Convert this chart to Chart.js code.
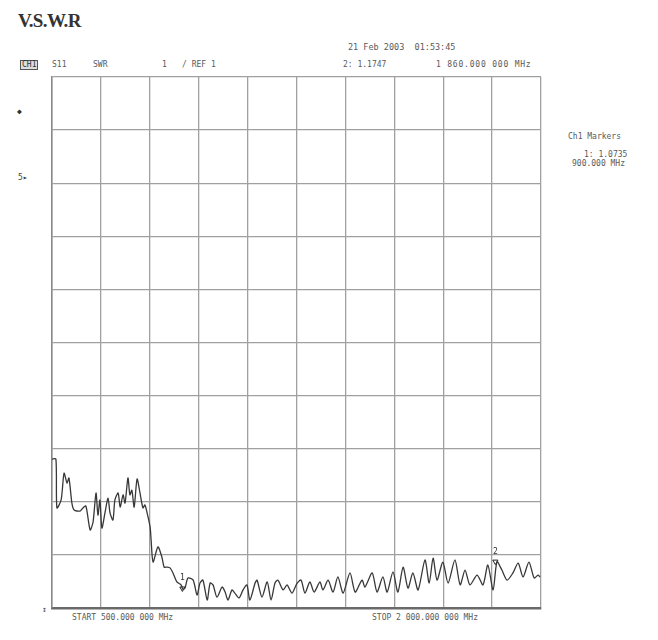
<!DOCTYPE html>
<html><head><meta charset="utf-8">
<script src="https://cdn.jsdelivr.net/npm/chart.js@4"></script>
<style>
body{margin:0;background:#fff;width:658px;height:640px;position:relative;overflow:hidden;font-family:"DejaVu Sans Mono",monospace;color:#5a5a5a}
.t{position:absolute;font-size:8px;white-space:pre;line-height:1}
#title{position:absolute;left:18px;top:10px;font-family:"Liberation Serif",serif;font-weight:bold;font-size:19px;color:#333;letter-spacing:-0.6px}
#wrap{position:absolute;left:46px;top:71px;width:501px;height:543px}
.box{border:1px solid #555;padding:0 1px;background:#ddd;color:#333}
</style></head><body>
<div id="title">V.S.W.R</div>
<div class="t" style="left:348px;top:43px;font-size:8.5px">21 Feb 2003  01:53:45</div>
<div class="t box" style="left:20px;top:60px;">CH1</div>
<div class="t" style="left:52px;top:61px">S11</div>
<div class="t" style="left:93px;top:61px">SWR</div>
<div class="t" style="left:162px;top:61px">1</div>
<div class="t" style="left:182px;top:61px">/ REF 1</div>
<div class="t" style="left:343px;top:61px">2: 1.1747</div>
<div class="t" style="left:436px;top:61px;letter-spacing:0.8px">1 860.000 000 MHz</div>
<div class="t" style="left:568px;top:133px">Ch1 Markers</div>
<div class="t" style="left:584px;top:151px">1: 1.0735</div>
<div class="t" style="left:572px;top:160px">900.000 MHz</div>
<div class="t" style="left:17px;top:108px;color:#333">&#9670;</div>
<div class="t" style="left:18px;top:174px;color:#444">5&#9656;</div>
<div class="t" style="left:42px;top:606px;color:#444">&#8597;</div>
<div class="t" style="left:72px;top:614px">START 500.000 000 MHz</div>
<div class="t" style="left:372px;top:614px">STOP 2 000.000 000 MHz</div>
<div id="wrap"><canvas id="c" width="501" height="543"></canvas></div>
<script>
// frequency (MHz)
const freqMHz = [500,512,515,528,537,546,552,561,568,586,595,604,617,626,635,641,647,653,663,672,678,687,693,703,709,718,724,733,739,745,752,761,770,779,785,791,801,804,810,825,837,844,853,862,871,883,896,902,908,917,933,945,954,963,976,985,994,1006,1022,1031,1040,1052,1061,1074,1086,1098,1107,1123,1129,1144,1160,1172,1184,1193,1209,1221,1236,1252,1264,1276,1291,1304,1322,1331,1347,1362,1377,1393,1414,1430,1451,1460,1482,1497,1515,1528,1546,1561,1577,1592,1607,1623,1644,1657,1669,1681,1699,1715,1736,1752,1767,1782,1804,1822,1837,1853,1865,1880,1896,1914,1930,1945,1963,1979,1991,1997];
// VSWR trace
const vswr = [1.561,1.561,1.377,1.407,1.508,1.471,1.490,1.395,1.369,1.365,1.377,1.384,1.294,1.324,1.433,1.350,1.407,1.301,1.362,1.414,1.358,1.331,1.407,1.433,1.380,1.426,1.395,1.490,1.426,1.444,1.380,1.486,1.433,1.377,1.388,1.362,1.305,1.256,1.173,1.230,1.192,1.154,1.154,1.151,1.132,1.098,1.087,1.070,1.075,1.113,1.105,1.049,1.094,1.105,1.030,1.094,1.087,1.041,1.079,1.060,1.030,1.068,1.056,1.038,1.068,1.087,1.030,1.094,1.105,1.041,1.098,1.030,1.094,1.105,1.068,1.087,1.056,1.094,1.105,1.056,1.098,1.060,1.098,1.068,1.105,1.060,1.117,1.056,1.132,1.060,1.105,1.079,1.132,1.060,1.117,1.060,1.136,1.060,1.154,1.075,1.132,1.068,1.181,1.094,1.188,1.105,1.173,1.094,1.181,1.087,1.143,1.087,1.124,1.087,1.162,1.068,1.174,1.143,1.105,1.132,1.169,1.117,1.173,1.113,1.124,1.117];
// markers
const markerNames = ["1","2"];
const markerFreq = [900,1860];
const markerVswr = [1.0735,1.1747];
// axis scale
const yMin = 1, yMax = 3, yStep = 0.2;
const xMin = 500, xMax = 2000, xStep = 150;

const markerLabels = {
  id:'markerLabels',
  afterDatasetsDraw(chart){
    const {ctx, scales:{x,y}} = chart;
    ctx.save();
    ctx.fillStyle = '#333';
    ctx.font = '8px "DejaVu Sans Mono"';
    ctx.textAlign = 'center';
    markerNames.forEach((n,i)=>{
      const px = x.getPixelForValue(markerFreq[i]);
      const py = y.getPixelForValue(markerVswr[i]);
      ctx.fillText(n, px, py - 8);
    });
    ctx.restore();
  }
};

new Chart(document.getElementById('c'), {
  type:'line',
  data:{datasets:[
    {data:freqMHz.map((f,i)=>({x:f,y:vswr[i]})), borderColor:'#383838', borderWidth:1.3, pointRadius:0, tension:0.25},
    {data:markerFreq.map((f,i)=>({x:f,y:markerVswr[i]})), showLine:false, pointStyle:'triangle', rotation:180, pointRadius:3, borderColor:'#222', backgroundColor:'rgba(255,255,255,0)', borderWidth:1}
  ]},
  options:{
    responsive:false, animation:false,
    layout:{padding:6},
    plugins:{legend:{display:false}, tooltip:{enabled:false}},
    scales:{
      x:{type:'linear', min:xMin, max:xMax, ticks:{display:false, stepSize:xStep}, grid:{color:'#a0a0a0', lineWidth:1.3, drawTicks:false}, border:{color:'#6a6a6a', width:2.5}},
      y:{min:yMin, max:yMax, ticks:{display:false, stepSize:yStep}, grid:{color:'#a0a0a0', lineWidth:1.3, drawTicks:false}, border:{color:'#888', width:1.5}}
    }
  },
  plugins:[markerLabels]
});
</script>
</body></html>
